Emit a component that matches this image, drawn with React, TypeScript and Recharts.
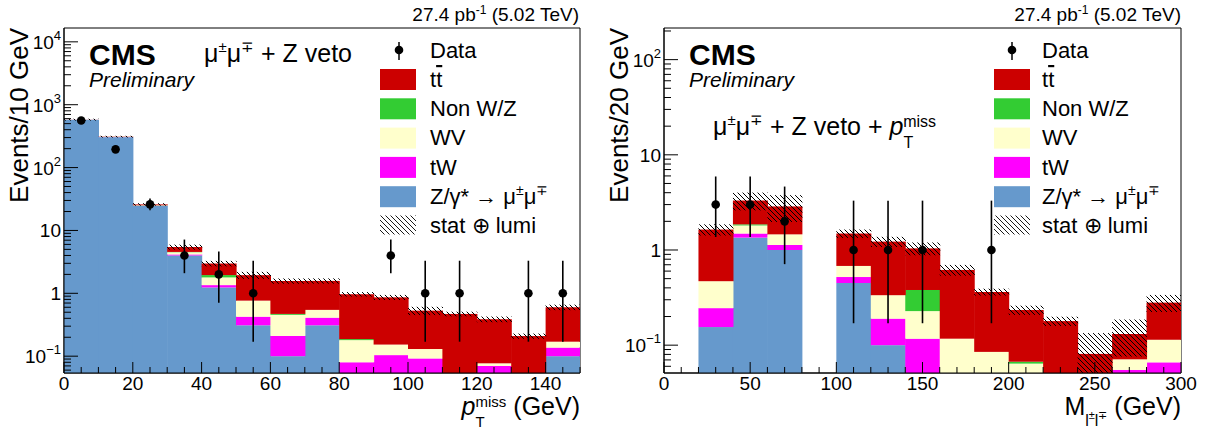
import React from 'react';
import { ComposedChart, Bar, XAxis, YAxis, Scatter, ErrorBar, ReferenceArea } from 'recharts';

const FONT = '"Liberation Sans", Arial, Helvetica, sans-serif';
const C_TT = '#cc0000';
const C_NONWZ = '#33cc33';
const C_WV = '#ffffcc';
const C_TW = '#ff00ff';
const C_DY = '#6699cc';

// ---------- Left panel: pT miss, 10 GeV bins ----------
const ptBins = [5, 15, 25, 35, 45, 55, 65, 75, 85, 95, 105, 115, 125, 135, 145];
const ptDY = [575, 305, 24.5, 4.0, 1.24, 0.31, 0.1, 0.31, 0.02, 0.02, 0.02, 0.01, 0.02, 0.003, 0.1];
const ptTW = [0.5, 0.8, 0.15, 0.15, 0.11, 0.115, 0.11, 0.1, 0.06, 0.084, 0.072, 0.01, 0.05, 0.003, 0.037];
const ptWV = [0.5, 0.8, 0.3, 0.35, 0.44, 0.34, 0.245, 0.135, 0.1, 0.049, 0.038, 0.01, 0.007, 0.003, 0.033];
const ptNonWZ = [0.5, 0.5, 0.2, 0.05, 0.16, 0, 0.015, 0, 0.007, 0, 0, 0, 0, 0, 0];
const ptTT = [2, 3, 0.8, 0.9, 1.03, 1.18, 1.1, 1.03, 0.78, 0.71, 0.4, 0.44, 0.31, 0.2, 0.43];
const ptUnc = [20, 10, 1.2, 0.5, 0.3, 0.25, 0.15, 0.15, 0.08, 0.08, 0.08, 0.04, 0.04, 0.02, 0.06];
const ptObs = [560, 195, 26, 4, 2, 1, null, null, null, 4, 1, 1, null, 1, 1];
const ptErrLo = [23.2, 13.9, 5.1, 1.91, 1.29, 0.83, 0, 0, 0, 1.91, 0.83, 0.83, 0, 0.83, 0.83];
const ptErrHi = [24.2, 14.5, 6.1, 3.16, 2.64, 2.3, 0, 0, 0, 3.16, 2.3, 2.3, 0, 2.3, 2.3];
const ptXMajors = [0, 20, 40, 60, 80, 100, 120, 140];

// ---------- Right panel: M_ll, 20 GeV bins ----------
const mBins = [10, 30, 50, 70, 90, 110, 130, 150, 170, 190, 210, 230, 250, 270, 290];
const mDY = [0, 0.155, 1.35, 1.0, 0, 0.45, 0.1, 0.01, 0.005, 0.005, 0.005, 0.003, 0.002, 0.005, 0.005];
const mTW = [0, 0.09, 0.14, 0.13, 0, 0.07, 0.09, 0.107, 0.005, 0.005, 0.005, 0.003, 0.002, 0.05, 0.061];
const mWV = [0, 0.225, 0.32, 0.33, 0, 0.16, 0.145, 0.111, 0.107, 0.075, 0.054, 0.003, 0.002, 0.016, 0.048];
const mNonWZ = [0, 0, 0.05, 0, 0, 0, 0, 0.152, 0, 0, 0.003, 0, 0, 0, 0];
const mTT = [0, 1.17, 1.45, 1.41, 0, 0.81, 0.89, 0.66, 0.5, 0.277, 0.167, 0.17, 0.075, 0.06, 0.166];
const mUnc = [0, 0.22, 0.7, 0.9, 0, 0.15, 0.15, 0.16, 0.08, 0.03, 0.026, 0.02, 0.053, 0.055, 0.057];
const mObs = [null, 3, 3, 2, null, 1, 1, 1, null, 1, null, null, null, null, null];
const mErrLo = [0, 1.63, 1.63, 1.29, 0, 0.83, 0.83, 0.83, 0, 0.83, 0, 0, 0, 0, 0];
const mErrHi = [0, 2.92, 2.92, 2.64, 0, 2.3, 2.3, 2.3, 0, 2.3, 0, 0, 0, 0, 0];
const mXMajors = [0, 50, 100, 150, 200, 250, 300];

const BinShape = (props: any) => {
  const { x, y, width, height, fill } = props;
  if (![x, y, width, height].every((v) => Number.isFinite(v)) || height <= 0) return <g />;
  return <rect x={x} y={y} width={width + 1} height={height} fill={fill} />;
};

const DotShape = (props: any) => {
  if (!Number.isFinite(props.cx) || !Number.isFinite(props.cy)) return <g />;
  return <circle cx={props.cx} cy={props.cy} r={4.3} fill="#000" />;
};

const isDecade = (v: number) => {
  const l = Math.log10(v);
  return Math.abs(l - Math.round(l)) < 1e-6;
};

const YTick = (props: any) => {
  const { x, y, payload } = props;
  const v = payload.value;
  const major = isDecade(v);
  const e = Math.round(Math.log10(v));
  return (
    <g>
      <line x1={x} x2={x + (major ? 14 : 7)} y1={y} y2={y} stroke="#000" strokeWidth={1} />
      {major && (
        <text x={x - 3} y={y + 7} textAnchor="end" fontSize={19} fontFamily={FONT} fill="#000">
          {e === 0 ? '1' : '10'}
          {e !== 0 && e !== 1 && (
            <tspan fontSize={13} dy={-9}>
              {e < 0 ? '\u2212' + Math.abs(e) : String(e)}
            </tspan>
          )}
        </text>
      )}
    </g>
  );
};

const makeXTick = (majors: number[]) => (props: any) => {
  const { x, y, payload } = props;
  const v = payload.value;
  const major = majors.includes(v);
  return (
    <g>
      <line x1={x} x2={x} y1={y} y2={y - (major ? 11 : 6)} stroke="#000" strokeWidth={1} />
      {major && (
        <text x={x} y={y + 17} textAnchor="middle" fontSize={19} fontFamily={FONT} fill="#000">
          {v}
        </text>
      )}
    </g>
  );
};

type PanelProps = {
  bins: number[];
  dy: number[];
  tw: number[];
  wv: number[];
  nonwz: number[];
  tt: number[];
  unc: number[];
  obs: (number | null)[];
  errLo: number[];
  errHi: number[];
  xMax: number;
  xStep: number;
  xMajors: number[];
  yMin: number;
  yMax: number;
  width: number;
  marginRight: number;
};

function Panel(p: PanelProps) {
  const rows = p.bins.map((x, i) => {
    const total = p.dy[i] + p.tw[i] + p.wv[i] + p.nonwz[i] + p.tt[i];
    return {
      x,
      dy: p.dy[i],
      tw: p.tw[i],
      wv: p.wv[i],
      nonwz: p.nonwz[i],
      tt: p.tt[i],
      band: total > 0 ? [Math.max(total - p.unc[i], p.yMin * 0.5), total + p.unc[i]] : null,
    };
  });
  const pts = p.bins
    .map((x, i) => ({ x, y: p.obs[i], err: [p.errLo[i], p.errHi[i]] }))
    .filter((d) => d.y != null);
  const xTicks: number[] = [];
  for (let v = 0; v <= p.xMax; v += p.xStep) xTicks.push(v);
  const yTicks: number[] = [];
  for (let e = Math.floor(Math.log10(p.yMin)); e <= Math.ceil(Math.log10(p.yMax)); e++) {
    for (let k = 1; k < 10; k++) {
      const v = parseFloat((k * Math.pow(10, e)).toPrecision(6));
      if (v >= p.yMin && v <= p.yMax) yTicks.push(v);
    }
  }
  return (
    <ComposedChart
      width={p.width}
      height={430}
      data={rows}
      margin={{ top: 28, right: p.marginRight, bottom: 0, left: 0 }}
      barCategoryGap={0}
      barGap={0}
    >
      <XAxis
        dataKey="x"
        type="number"
        domain={[0, p.xMax]}
        allowDataOverflow
        ticks={xTicks}
        interval={0}
        tickSize={0}
        tickMargin={0}
        tickLine={false}
        axisLine={{ stroke: '#000' }}
        height={57}
        tick={makeXTick(p.xMajors)}
      />
      <XAxis xAxisId="band" dataKey="x" type="number" domain={[0, p.xMax]} allowDataOverflow hide />
      <YAxis
        type="number"
        scale="log"
        domain={[p.yMin, p.yMax]}
        allowDataOverflow
        ticks={yTicks}
        interval={0}
        tickSize={0}
        tickMargin={0}
        tickLine={false}
        axisLine={{ stroke: '#000' }}
        width={64}
        tick={YTick}
      />
      <Bar dataKey="dy" stackId="mc" fill={C_DY} shape={BinShape} isAnimationActive={false} />
      <Bar dataKey="tw" stackId="mc" fill={C_TW} shape={BinShape} isAnimationActive={false} />
      <Bar dataKey="wv" stackId="mc" fill={C_WV} shape={BinShape} isAnimationActive={false} />
      <Bar dataKey="nonwz" stackId="mc" fill={C_NONWZ} shape={BinShape} isAnimationActive={false} />
      <Bar dataKey="tt" stackId="mc" fill={C_TT} shape={BinShape} isAnimationActive={false} />
      <Bar xAxisId="band" dataKey="band" fill="url(#hatchBand)" shape={BinShape} isAnimationActive={false} />
      <ReferenceArea
        x1={0}
        x2={p.xMax}
        y1={p.yMin}
        y2={p.yMax}
        fill="none"
        stroke="#000"
        strokeWidth={1}
        ifOverflow="visible"
      />
      <Scatter data={pts} dataKey="y" fill="#000" shape={DotShape} isAnimationActive={false}>
        <ErrorBar dataKey="err" direction="y" width={0} stroke="#000" strokeWidth={1.6} />
      </Scatter>
    </ComposedChart>
  );
}

const legendRows = [
  { fill: C_TT, key: 'tt' },
  { fill: C_NONWZ, key: 'nonwz' },
  { fill: C_WV, key: 'wv' },
  { fill: C_TW, key: 'tw' },
  { fill: C_DY, key: 'dy' },
  { fill: 'url(#hatchLegend)', key: 'unc' },
];

const legendLabel = (key: string) => {
  switch (key) {
    case 'tt':
      return (
        <>
          t<tspan textDecoration="overline">t</tspan>
        </>
      );
    case 'nonwz':
      return 'Non W/Z';
    case 'wv':
      return 'WV';
    case 'tw':
      return 'tW';
    case 'dy':
      return (
        <>
          Z/γ* → μ<tspan fontSize={14} dy={-9}>±</tspan>
          <tspan dy={9}>μ</tspan>
          <tspan fontSize={14} dy={-9}>∓</tspan>
        </>
      );
    default:
      return 'stat ⊕ lumi';
  }
};

const Legend = ({ sx, tx, mx }: { sx: number; tx: number; mx: number }) => (
  <g fontFamily={FONT} fontSize={22} fill="#000">
    <line x1={mx} x2={mx} y1={42} y2={60} stroke="#000" strokeWidth={1.5} />
    <circle cx={mx} cy={50} r={4.3} fill="#000" />
    <text x={tx} y={58}>Data</text>
    {legendRows.map((r, i) => (
      <g key={r.key}>
        <rect x={sx} y={69 + i * 29.3} width={36} height={r.key === 'unc' ? 19 : 21} fill={r.fill} />
        <text x={tx} y={87 + i * 29.2}>
          {legendLabel(r.key)}
        </text>
      </g>
    ))}
  </g>
);

const Lumi = ({ x }: { x: number }) => (
  <text x={x} y={21} textAnchor="end" fontFamily={FONT} fontSize={19} fill="#000">
    27.4 pb<tspan fontSize={12} dy={-7}>-1</tspan>
    <tspan dy={7}> (5.02 TeV)</tspan>
  </text>
);

const CmsLabel = ({ x }: { x: number }) => (
  <g fontFamily={FONT} fill="#000">
    <text x={x} y={65} fontSize={30} fontWeight="bold">
      CMS
    </text>
    <text x={x} y={87} fontSize={21} fontStyle="italic">
      Preliminary
    </text>
  </g>
);

export default function App() {
  return (
    <div style={{ position: 'absolute', left: 0, top: 0, width: 1212, height: 430, background: '#fff' }}>
      <svg width={0} height={0} style={{ position: 'absolute' }}>
        <defs>
          <pattern id="hatchBand" patternUnits="userSpaceOnUse" width={5} height={5}>
            <path d="M0,0 L5,5 M-1,4 L1,6 M4,-1 L6,1" stroke="#000" strokeWidth={1} />
          </pattern>
          <pattern id="hatchLegend" patternUnits="userSpaceOnUse" width={5} height={5}>
            <path d="M0,0 L5,5 M-1,4 L1,6 M4,-1 L6,1" stroke="#000" strokeWidth={0.9} />
          </pattern>
        </defs>
      </svg>
      <div style={{ position: 'absolute', left: 0, top: 0 }}>
        <Panel
          bins={ptBins}
          dy={ptDY}
          tw={ptTW}
          wv={ptWV}
          nonwz={ptNonWZ}
          tt={ptTT}
          unc={ptUnc}
          obs={ptObs}
          errLo={ptErrLo}
          errHi={ptErrHi}
          xMax={150}
          xStep={5}
          xMajors={ptXMajors}
          yMin={0.054}
          yMax={16600}
          width={606}
          marginRight={26}
        />
      </div>
      <div style={{ position: 'absolute', left: 600, top: 0 }}>
        <Panel
          bins={mBins}
          dy={mDY}
          tw={mTW}
          wv={mWV}
          nonwz={mNonWZ}
          tt={mTT}
          unc={mUnc}
          obs={mObs}
          errLo={mErrLo}
          errHi={mErrHi}
          xMax={300}
          xStep={10}
          xMajors={mXMajors}
          yMin={0.051}
          yMax={215}
          width={612}
          marginRight={31}
        />
      </div>
      <svg
        width={1212}
        height={430}
        style={{ position: 'absolute', left: 0, top: 0, pointerEvents: 'none' }}
      >
        <Lumi x={579} />
        <Lumi x={1181} />
        <CmsLabel x={89} />
        <CmsLabel x={689} />
        <text x={204} y={62} fontFamily={FONT} fontSize={25} fill="#000">
          μ<tspan fontSize={15} dy={-10}>±</tspan>
          <tspan dy={10}>μ</tspan>
          <tspan fontSize={15} dy={-10}>∓</tspan>
          <tspan dy={10}> + Z veto</tspan>
        </text>
        <text x={713} y={135} fontFamily={FONT} fontSize={25} fill="#000">
          μ<tspan fontSize={15} dy={-10}>±</tspan>
          <tspan dy={10}>μ</tspan>
          <tspan fontSize={15} dy={-10}>∓</tspan>
          <tspan dy={10}> + Z veto + </tspan>
          <tspan fontStyle="italic">p</tspan>
          <tspan fontSize={16} dy={13}>T</tspan>
          <tspan fontSize={16} dx={-10} dy={-21}>miss</tspan>
        </text>
        <Legend sx={380} tx={430} mx={399} />
        <Legend sx={994} tx={1042} mx={1012} />
        <text
          transform="translate(28,28) rotate(-90)"
          textAnchor="end"
          fontFamily={FONT}
          fontSize={26}
          fill="#000"
        >
          Events/10 GeV
        </text>
        <text
          transform="translate(628,28) rotate(-90)"
          textAnchor="end"
          fontFamily={FONT}
          fontSize={26}
          fill="#000"
        >
          Events/20 GeV
        </text>
        <text x={580} y={415} textAnchor="end" fontFamily={FONT} fontSize={25} fill="#000">
          <tspan fontStyle="italic">p</tspan>
          <tspan fontSize={15} dy={12}>T</tspan>
          <tspan fontSize={15} dx={-9} dy={-20}>miss</tspan>
          <tspan dy={8}> (GeV)</tspan>
        </text>
        <text x={1181} y={415} textAnchor="end" fontFamily={FONT} fontSize={25} fill="#000">
          M<tspan fontSize={16} dy={11}>l</tspan>
          <tspan fontSize={11} dy={-7}>±</tspan>
          <tspan fontSize={16} dy={7}>l</tspan>
          <tspan fontSize={11} dy={-7}>∓</tspan>
          <tspan dy={-4}> (GeV)</tspan>
        </text>
      </svg>
    </div>
  );
}
